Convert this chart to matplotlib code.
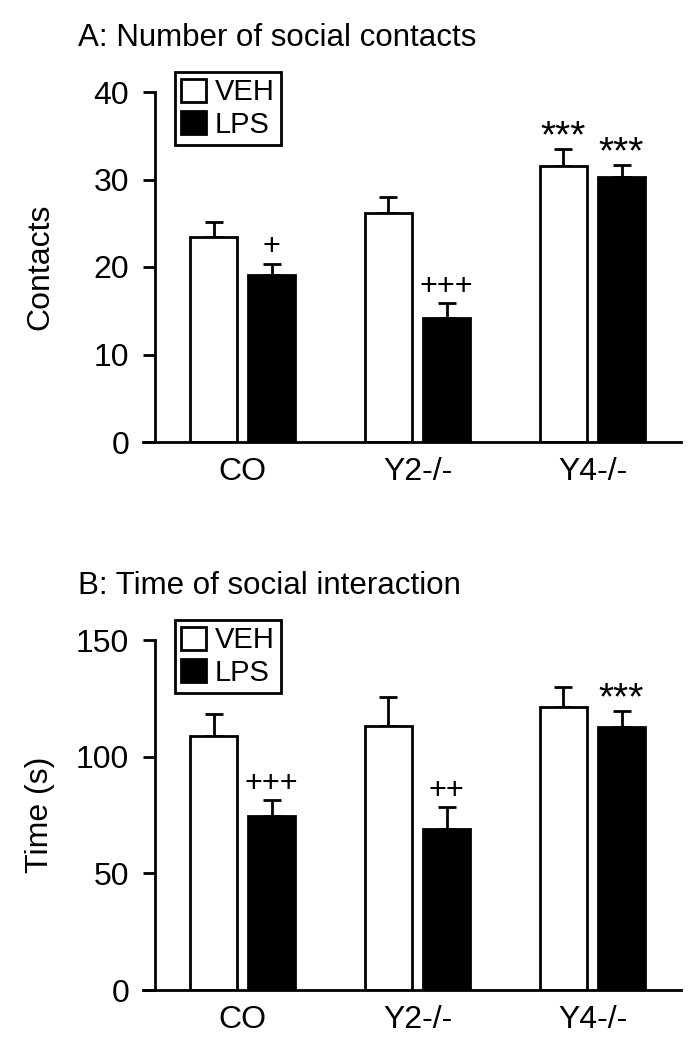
import numpy as np
import matplotlib
matplotlib.use("Agg")
import matplotlib.pyplot as plt
from matplotlib.patches import Patch

plt.rcParams['font.family'] = ['Liberation Sans', 'DejaVu Sans']

groups = ["CO", "Y2-/-", "Y4-/-"]
treatments = ["VEH", "LPS"]

# panel A: number of social contacts (mean, SEM)
contacts_veh = [23.4, 26.2, 31.5]
contacts_veh_err = [1.7, 1.8, 2.0]
contacts_lps = [19.1, 14.2, 30.3]
contacts_lps_err = [1.3, 1.7, 1.4]
contacts_marks_veh = ["", "", "***"]
contacts_marks_lps = ["+", "+++", "***"]

# panel B: time of social interaction (s)
time_veh = [108.9, 113.2, 121.5]
time_veh_err = [9.6, 12.4, 8.3]
time_lps = [74.5, 68.8, 112.6]
time_lps_err = [6.9, 9.7, 6.9]
time_marks_veh = ["", "", ""]
time_marks_lps = ["+++", "++", "***"]

W, H = 697, 1048
LW = 2.0
fig = plt.figure(figsize=(W / 100, H / 100), dpi=100)


def panel(bottom_px, title, ylabel, ymax, yticks, veh, veh_err, lps, lps_err, mk_veh, mk_lps):
    top_px = bottom_px - 350
    ax = fig.add_axes([143 / W, 1 - bottom_px / H, 538 / W, 350 / H])
    x = np.arange(len(groups))
    off, bw = 0.166, 0.27
    ax.bar(x - off, veh, bw, color='white', edgecolor='black', linewidth=LW, zorder=2)
    ax.bar(x + off, lps, bw, color='black', edgecolor='black', linewidth=LW, zorder=2)
    for xs, vals, errs in [(x - off, veh, veh_err), (x + off, lps, lps_err)]:
        ax.errorbar(xs, vals, yerr=[np.zeros(len(vals)), errs], fmt='none',
                    ecolor='black', elinewidth=LW, capsize=6.5, capthick=LW, zorder=1)
    for xs, vals, errs, marks in [(x - off, veh, veh_err, mk_veh), (x + off, lps, lps_err, mk_lps)]:
        for xi, v, e, m in zip(xs, vals, errs, marks):
            if not m:
                continue
            if m.startswith('*'):
                ax.annotate(m, (xi, v + e), xytext=(0, 1), textcoords='offset points',
                            ha='center', va='baseline', fontsize=28)
            else:
                ax.annotate(m, (xi, v + e), xytext=(0, 6), textcoords='offset points',
                            ha='center', va='baseline', fontsize=22)
    ax.set_xlim(-0.569, 2.506)
    ax.set_ylim(0, ymax)
    ax.set_yticks(yticks)
    ax.set_xticks(x)
    ax.set_xticklabels(groups)
    for s in ['top', 'right']:
        ax.spines[s].set_visible(False)
    ax.spines['left'].set_position(('axes', 12 / 538))
    ax.spines['left'].set_linewidth(LW)
    ax.spines['bottom'].set_linewidth(LW)
    ax.tick_params(axis='y', length=8.6, width=LW, labelsize=23, pad=10)
    ax.tick_params(axis='x', length=0, labelsize=23, pad=11)
    fig.text(78 / W, 1 - (top_px - 46) / H, title, fontsize=22.5, va='baseline', ha='left')
    fig.text(40 / W, 1 - (top_px + 175) / H, ylabel, fontsize=23, rotation=90,
             ha='center', va='center')
    handles = [Patch(facecolor='white', edgecolor='black', linewidth=LW),
               Patch(facecolor='black', edgecolor='black', linewidth=LW)]
    leg = fig.legend(handles, treatments, loc='upper left',
                     bbox_to_anchor=(175 / W, 1 - (top_px - 20) / H),
                     fontsize=21, frameon=True, fancybox=False, edgecolor='black',
                     handlelength=0.85, handleheight=0.82, handletextpad=0.3,
                     labelspacing=0.15, borderpad=0.22, borderaxespad=0)
    leg.get_frame().set_linewidth(LW)
    leg.get_frame().set_alpha(1)
    return ax


panel(442, "A: Number of social contacts", "Contacts", 40, [0, 10, 20, 30, 40],
      contacts_veh, contacts_veh_err, contacts_lps, contacts_lps_err,
      contacts_marks_veh, contacts_marks_lps)
panel(990, "B: Time of social interaction", "Time (s)", 150, [0, 50, 100, 150],
      time_veh, time_veh_err, time_lps, time_lps_err,
      time_marks_veh, time_marks_lps)

fig.savefig("out.png", dpi=100)
